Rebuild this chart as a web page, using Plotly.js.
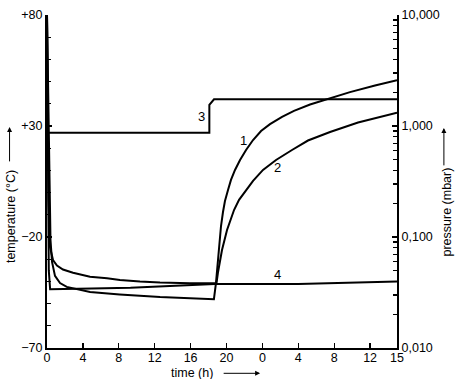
<!DOCTYPE html>
<html>
<head>
<meta charset="utf-8">
<script src="https://cdn.plot.ly/plotly-3.0.1.min.js"></script>
<style>html,body{margin:0;padding:0;background:#fff;}#chart{width:457px;height:379px;}</style>
</head>
<body>
<div id="chart"></div>
<script>
// time in hours since start (second day continues after 24 h)
const xTickVals = [0, 4, 8, 12, 16, 20, 24, 28, 32, 36, 39];
const xTickText = ['0', '4', '8', '12', '16', '20', '0', '4', '8', '12', '15'];

// curve 1 (pressure, mbar)
const curve1Time = [0, 0.39, 0.56, 0.89, 1.45, 2.2, 4.8, 8.1, 12.6, 15.9, 18.6, 18.83, 18.94, 19.06, 19.22, 19.39, 19.61, 19.83, 20.17, 20.5, 20.95, 21.51, 22.18, 22.96, 23.85, 24.85, 26.19, 27.52, 29.31, 31.31, 33.76, 36.55, 39];
const curve1Pressure = [10, 0.094, 0.0596, 0.0446, 0.0385, 0.0355, 0.032, 0.0304, 0.0288, 0.028, 0.0275, 0.0386, 0.0504, 0.0661, 0.0939, 0.1256, 0.168, 0.211, 0.265, 0.327, 0.402, 0.494, 0.608, 0.748, 0.901, 1.04, 1.21, 1.37, 1.56, 1.75, 2.02, 2.32, 2.59];

// curve 2 (pressure, mbar)
const curve2Time = [0, 0.17, 0.33, 0.67, 1.11, 1.78, 2.9, 4.79, 6.69, 8.13, 10.36, 12.59, 15.93, 18.72, 18.89, 19.06, 19.28, 19.5, 20.06, 20.84, 21.4, 22.18, 22.96, 24.07, 25.52, 27.3, 29.08, 31.54, 34.66, 39];
const curve2Pressure = [10, 0.216, 0.0813, 0.062, 0.0553, 0.0509, 0.0477, 0.0438, 0.0424, 0.041, 0.0397, 0.0389, 0.0384, 0.0381, 0.0386, 0.0484, 0.0621, 0.0764, 0.1156, 0.175, 0.216, 0.265, 0.32, 0.402, 0.494, 0.608, 0.74, 0.883, 1.075, 1.32];

// curve 3 (temperature, °C)
const curve3Time = [0, 18.09, 18.09, 18.61, 39];
const curve3Temp = [27, 27, 39.5, 42, 42];

// curve 4 (pressure, mbar)
const curve4Time = [0, 0.2, 0.35, 1.5, 5, 9.3, 12.6, 16, 18.7, 28, 39];
const curve4Pressure = [10, 0.05, 0.0338, 0.0338, 0.0343, 0.0349, 0.0357, 0.037, 0.0378, 0.0378, 0.0397];

const tempTickVals = [-70, -20, 30, 80];
const tempTickText = ['\u221270', '\u221220', '+30', '+80'];
const pressTickVals = [0.01, 0.1, 1, 10];
const pressTickText = ['0,010', '0,100', '1,000', '10,000'];

const FONT = 'Liberation Sans, Arial, sans-serif';
const FS = 12.5;

const pressMinor = [];
[0.01, 0.1, 1].forEach(d => { for (let k = 2; k <= 9; k++) pressMinor.push(+(d * k).toPrecision(3)); });

const lineStyle = {color: '#000', width: 2};
const traces = [
  {x: curve1Time, y: curve1Pressure, yaxis: 'y2', mode: 'lines', line: lineStyle, name: '1'},
  {x: curve2Time, y: curve2Pressure, yaxis: 'y2', mode: 'lines', line: lineStyle, name: '2'},
  {x: curve3Time, y: curve3Temp, yaxis: 'y', mode: 'lines', line: lineStyle, name: '3'},
  {x: curve4Time, y: curve4Pressure, yaxis: 'y2', mode: 'lines', line: lineStyle, name: '4'}
];

const axisCommon = {
  showline: true, linecolor: '#000', linewidth: 2, showgrid: false, zeroline: false,
  ticks: 'inside', ticklen: 5, tickwidth: 1.2, tickcolor: '#000',
  tickfont: {family: FONT, size: FS, color: '#000'}
};

const layout = {
  width: 457, height: 379,
  margin: {l: 47, r: 60, t: 15, b: 31},
  paper_bgcolor: '#fff', plot_bgcolor: '#fff',
  showlegend: false,
  font: {family: FONT, size: FS, color: '#000'},
  xaxis: Object.assign({}, axisCommon, {
    range: [0, 39], tickmode: 'array', tickvals: xTickVals, ticktext: xTickText,
    ticklabelstandoff: -3,
    title: {text: ''}
  }),
  yaxis: Object.assign({}, axisCommon, {
    range: [-70, 80], tickmode: 'array', tickvals: tempTickVals, ticktext: tempTickText,
    minor: {tickmode: 'linear', tick0: -70, dtick: 10, ticks: 'inside', ticklen: 4, tickwidth: 1.2, tickcolor: '#000', showgrid: false},
    title: {text: ''}
  }),
  yaxis2: Object.assign({}, axisCommon, {
    type: 'log', range: [-2, 1], overlaying: 'y', side: 'right',
    tickmode: 'array', tickvals: pressTickVals, ticktext: pressTickText,
    minor: {tickmode: 'array', tickvals: pressMinor, ticks: 'inside', ticklen: 4, tickwidth: 1.2, tickcolor: '#000', showgrid: false},
    title: {text: ''}
  }),
  annotations: [
    {text: '1', xref: 'x', yref: 'y', x: 21.9, y: 23.4, showarrow: false, font: {family: FONT, size: 13, color: '#000'}},
    {text: '2', xref: 'x', yref: 'y', x: 25.7, y: 11.4, showarrow: false, font: {family: FONT, size: 13, color: '#000'}},
    {text: '3', xref: 'x', yref: 'y', x: 17.24, y: 34.2, showarrow: false, font: {family: FONT, size: 13, color: '#000'}},
    {text: '4', xref: 'x', yref: 'y', x: 25.7, y: -36.7, showarrow: false, font: {family: FONT, size: 13, color: '#000'}},
    {text: 'temperature (\u00b0C)', xref: 'paper', yref: 'paper', x: -0.103, y: 0.396, textangle: -90, showarrow: false, xanchor: 'center', yanchor: 'middle', font: {family: FONT, size: FS}},
    {text: 'pressure (mbar)', xref: 'paper', yref: 'paper', x: 1.143, y: 0.407, textangle: -90, showarrow: false, xanchor: 'center', yanchor: 'middle', font: {family: FONT, size: FS}},
    {text: 'time (h)', xref: 'paper', yref: 'paper', x: 0.413, y: -0.074, showarrow: false, xanchor: 'center', yanchor: 'middle', font: {family: FONT, size: FS}},
    {text: '', xref: 'paper', yref: 'paper', x: -0.107, y: 0.664, ax: 0, ay: 36, showarrow: true, arrowhead: 2, arrowsize: 1, arrowwidth: 1, arrowcolor: '#000'},
    {text: '', xref: 'paper', yref: 'paper', x: 1.134, y: 0.661, ax: 0, ay: 39, showarrow: true, arrowhead: 2, arrowsize: 1, arrowwidth: 1, arrowcolor: '#000'},
    {text: '', xref: 'paper', yref: 'paper', x: 0.609, y: -0.076, ax: -38, ay: 0, showarrow: true, arrowhead: 2, arrowsize: 1, arrowwidth: 1, arrowcolor: '#000'}
  ]
};

Plotly.newPlot('chart', traces, layout, {staticPlot: true, displayModeBar: false});
</script>
</body>
</html>
